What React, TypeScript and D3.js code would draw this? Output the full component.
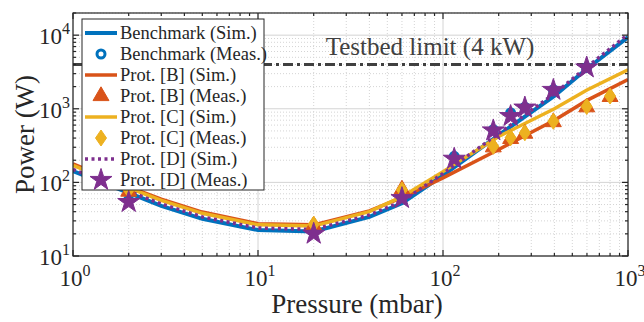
import React from "react";
import * as d3 from "d3";

// simulated curves (pressure in mbar, power in W)
const simP = [1, 2, 3, 5, 10, 20, 40, 60, 100, 200, 400, 600, 1000];
const benchSim = [142, 72, 48, 32, 22.5, 21.5, 34, 52, 125, 440, 1500, 3500, 9400];
const protBSim = [178, 87, 59, 39.5, 27.5, 26.5, 41, 62, 115, 280, 700, 1300, 2500];
const protCSim = [170, 84, 57, 38, 26.5, 25.5, 40, 64, 140, 420, 1000, 1800, 3380];
const protDSim = [150, 76, 51, 34, 24, 23, 36, 55, 132, 460, 1600, 3700, 10200];

// measurements
const measPBD = [2, 20, 60, 115, 187, 232, 277, 395, 598];
const benchMeas = [58, 21, 62, 226, 520, 880, 1050, 1820, 3650];
const protDMeas = [54, 20, 61, 209, 507, 794, 1036, 1800, 3630];
const measPBC = [2, 20, 60, 187, 232, 277, 395, 598, 800];
const protBMeas = [75, 26, 80, 300, 390, 460, 660, 1050, 1450];
const protCMeas = [79, 27, 79, 309, 404, 472, 676, 1075, 1490];

const testbedLimit = 4000;

const xTicks = [1, 10, 100, 1000];
const yTicks = [10, 100, 1000, 10000];

const C_BLUE = "#0072BD";
const C_ORANGE = "#D95319";
const C_YELLOW = "#EDB120";
const C_PURPLE = "#7E2F8E";
const INK = "#262626";
const FONT = "Liberation Serif, Times New Roman, DejaVu Serif, serif";

const W = 644;
const H = 322;
const m = { left: 73, right: 16, top: 13, bottom: 66 };

const x = d3.scaleLog().domain([1, 1000]).range([m.left, W - m.right]);
const y = d3.scaleLog().domain([10, 20000]).range([H - m.bottom, m.top]);

const line = d3
  .line<[number, number]>()
  .x((d) => x(d[0]))
  .y((d) => y(d[1]));

const zip = (xs: number[], ys: number[]) => xs.map((v, i) => [v, ys[i]] as [number, number]);

const starPath = d3.symbol(d3.symbolStar, 150)()!;
const triPath = d3.symbol(d3.symbolTriangle, 110)()!;
const diamondPath = "M0,-8L5.5,0L0,8L-5.5,0Z";

const minorVals = (lo: number, hi: number) => {
  const out: number[] = [];
  for (let d = lo; d < hi; d *= 10) for (let k = 2; k <= 9; k++) out.push(d * k);
  return out;
};
const xMinor = minorVals(1, 1000);
const yMinor = minorVals(10, 100000).filter((v) => v <= 20000);

const Marker = ({ kind, color }: { kind: string; color: string }) => {
  if (kind === "circle")
    return <circle r={4} fill="none" stroke={color} strokeWidth={3} />;
  if (kind === "tri") return <path d={triPath} fill={color} stroke={color} strokeWidth={1} />;
  if (kind === "diamond") return <path d={diamondPath} fill={color} stroke={color} strokeWidth={1} />;
  return <path d={starPath} fill={color} stroke={color} strokeWidth={1} />;
};

const Pow = ({ v, anchor, xx, yy }: { v: number; anchor: string; xx: number; yy: number }) => (
  <text x={xx} y={yy} textAnchor={anchor} fontSize={23} fill={INK} fontFamily={FONT}>
    10<tspan dy={-10} fontSize={16}>{Math.round(Math.log10(v))}</tspan>
  </text>
);

const legendItems = [
  { label: "Benchmark (Sim.)", color: C_BLUE, type: "line", dash: "", w: 4 },
  { label: "Benchmark (Meas.)", color: C_BLUE, type: "circle" },
  { label: "Prot. [B] (Sim.)", color: C_ORANGE, type: "line", dash: "", w: 3.5 },
  { label: "Prot. [B] (Meas.)", color: C_ORANGE, type: "tri" },
  { label: "Prot. [C] (Sim.)", color: C_YELLOW, type: "line", dash: "", w: 3.5 },
  { label: "Prot. [C] (Meas.)", color: C_YELLOW, type: "diamond" },
  { label: "Prot. [D] (Sim.)", color: C_PURPLE, type: "line", dash: "3,3.5", w: 3.5 },
  { label: "Prot. [D] (Meas.)", color: C_PURPLE, type: "star" },
];

export default function App() {
  const [x0, x1] = x.range();
  const [y0, y1] = y.range();

  return (
    <svg
      width={W}
      height={H}
      fontFamily={FONT}
      style={{ position: "absolute", left: 0, top: 0 }}
    >
      <rect x={0} y={0} width={W} height={H} fill="#fff" />
      <defs>
        <clipPath id="plot">
          <rect x={x0} y={y1} width={x1 - x0} height={y0 - y1} />
        </clipPath>
      </defs>

      {/* grid */}
      <g stroke="#d4d4d4" strokeWidth={1}>
        {xMinor.map((v) => (
          <line key={"xm" + v} x1={x(v)} x2={x(v)} y1={y0} y2={y1} strokeDasharray="1,2" />
        ))}
        {yMinor.map((v) => (
          <line key={"ym" + v} x1={x0} x2={x1} y1={y(v)} y2={y(v)} strokeDasharray="1,2" />
        ))}
        {xTicks.map((v) => (
          <line key={"xg" + v} x1={x(v)} x2={x(v)} y1={y0} y2={y1} />
        ))}
        {yTicks.map((v) => (
          <line key={"yg" + v} x1={x0} x2={x1} y1={y(v)} y2={y(v)} />
        ))}
      </g>

      {/* testbed limit */}
      <line
        x1={x0}
        x2={x1}
        y1={y(testbedLimit)}
        y2={y(testbedLimit)}
        stroke="#404040"
        strokeWidth={3}
        strokeDasharray="10,4,3,4"
      />
      <text x={430} y={y(testbedLimit) - 9} textAnchor="middle" fontSize={25} fill="#404040" fontFamily={FONT}>
        Testbed limit (4 kW)
      </text>

      <g clipPath="url(#plot)" fill="none">
        <path d={line(zip(simP, benchSim))!} stroke={C_BLUE} strokeWidth={4} />
        <path d={line(zip(simP, protBSim))!} stroke={C_ORANGE} strokeWidth={3.5} />
        <path d={line(zip(simP, protCSim))!} stroke={C_YELLOW} strokeWidth={3.5} />
        <path d={line(zip(simP, protDSim))!} stroke={C_PURPLE} strokeWidth={3.5} strokeDasharray="3,3.5" />
      </g>

      {measPBD.map((p, i) => (
        <g key={"bm" + i} transform={`translate(${x(p)},${y(benchMeas[i])})`}>
          <Marker kind="circle" color={C_BLUE} />
        </g>
      ))}
      {measPBC.map((p, i) => (
        <g key={"pb" + i} transform={`translate(${x(p)},${y(protBMeas[i])})`}>
          <Marker kind="tri" color={C_ORANGE} />
        </g>
      ))}
      {measPBC.map((p, i) => (
        <g key={"pc" + i} transform={`translate(${x(p)},${y(protCMeas[i])})`}>
          <Marker kind="diamond" color={C_YELLOW} />
        </g>
      ))}
      {measPBD.map((p, i) => (
        <g key={"pd" + i} transform={`translate(${x(p)},${y(protDMeas[i])})`}>
          <Marker kind="star" color={C_PURPLE} />
        </g>
      ))}

      {/* axes box and ticks */}
      <g stroke={INK} strokeWidth={1.2}>
        <rect x={x0} y={y1} width={x1 - x0} height={y0 - y1} fill="none" />
        {xTicks.map((v) => (
          <g key={"xt" + v}>
            <line x1={x(v)} x2={x(v)} y1={y0} y2={y0 - 6} />
            <line x1={x(v)} x2={x(v)} y1={y1} y2={y1 + 6} />
          </g>
        ))}
        {xMinor.map((v) => (
          <g key={"xmt" + v}>
            <line x1={x(v)} x2={x(v)} y1={y0} y2={y0 - 3} />
            <line x1={x(v)} x2={x(v)} y1={y1} y2={y1 + 3} />
          </g>
        ))}
        {yTicks.map((v) => (
          <g key={"yt" + v}>
            <line x1={x0} x2={x0 + 6} y1={y(v)} y2={y(v)} />
            <line x1={x1} x2={x1 - 6} y1={y(v)} y2={y(v)} />
          </g>
        ))}
        {yMinor.map((v) => (
          <g key={"ymt" + v}>
            <line x1={x0} x2={x0 + 3} y1={y(v)} y2={y(v)} />
            <line x1={x1} x2={x1 - 3} y1={y(v)} y2={y(v)} />
          </g>
        ))}
      </g>

      {/* tick labels */}
      {xTicks.map((v) => (
        <Pow key={"xl" + v} v={v} anchor="middle" xx={x(v) + 2} yy={y0 + 30} />
      ))}
      {yTicks.map((v) => (
        <Pow key={"yl" + v} v={v} anchor="end" xx={x0 - 3} yy={y(v) + 9} />
      ))}

      <text x={357} y={H - 9} textAnchor="middle" fontSize={27} fill={INK} fontFamily={FONT}>
        Pressure (mbar)
      </text>
      <text
        transform={`translate(34,${(y0 + y1) / 2}) rotate(-90)`}
        textAnchor="middle"
        fontSize={27}
        fill={INK}
        fontFamily={FONT}
      >
        Power (W)
      </text>

      {/* legend */}
      <g transform="translate(82,19)">
        <rect x={0} y={0} width={182} height={171} fill="#fff" stroke={INK} strokeWidth={1} />
        {legendItems.map((it, i) => {
          const cy = 14 + i * 21;
          return (
            <g key={it.label} transform={`translate(0,${cy})`}>
              {it.type === "line" ? (
                <line
                  x1={3}
                  x2={35}
                  y1={0}
                  y2={0}
                  stroke={it.color}
                  strokeWidth={it.w}
                  strokeDasharray={it.dash || undefined}
                />
              ) : (
                <g transform="translate(19,0)">
                  <Marker kind={it.type} color={it.color} />
                </g>
              )}
              <text x={38} y={6} fontSize={18.5} fill={INK} fontFamily={FONT}>
                {it.label}
              </text>
            </g>
          );
        })}
      </g>
    </svg>
  );
}
